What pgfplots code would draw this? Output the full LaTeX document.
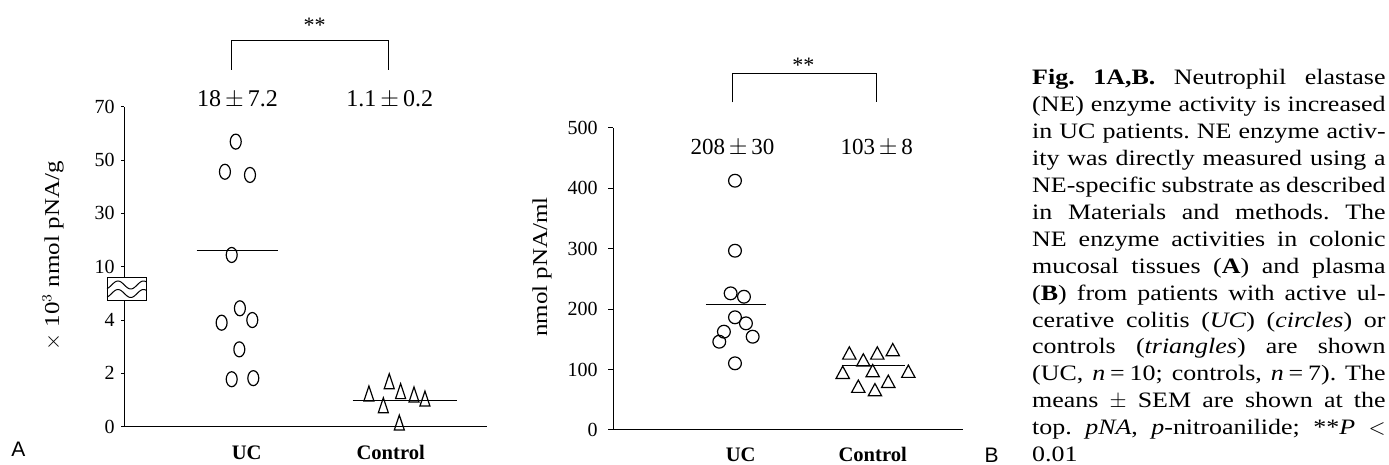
\documentclass[border=0pt]{standalone}
\usepackage{fontspec}
\setmainfont{Liberation Serif}
\setsansfont{Liberation Sans}
\newfontfamily\capfont{Liberation Serif}[FakeStretch=1.18]
\usepackage{pgfplots}
\pgfplotsset{compat=1.18}
\newcommand\capline[2]{\node[anchor=base west, inner sep=0pt,
   font=\capfont\fontsize{11}{13}\selectfont\frenchspacing] at (1031.7,#1) {\makebox[176.7pt][s]{#2}};}

\begin{document}
\begin{tikzpicture}
\pgfplotsset{
  dotplot/.style={
    scale only axis, axis lines=left, axis line style={-, line width=0.5pt},
    xtick=\empty, tick align=outside, ytick pos=left,
    tick style={black, line width=0.5pt},
    tick label style={font=\fontsize{10}{12}\selectfont},
    yticklabel style={inner sep=0pt, anchor=east},
    /pgf/number format/assume math mode=true,
    clip=false,
  }
}
% ---------- Panel A ----------
\begin{axis}[dotplot, at={(62pt,19.15pt)}, anchor=south west,
  width=181.5pt, height=160pt,
  xmin=0.148, xmax=2.669, ymin=0, ymax=70,
  y coord trafo/.code={\pgfmathparse{#1<7 ? #1/2 : 3+(#1-10)/20}},
  ytick={0,2,4,10,30,50,70}, yticklabels={0,2,4,10,30,50,70},
  major tick length=1.5pt, yticklabel style={xshift=-3pt}]
\addplot[only marks, mark=o, mark size=3.75pt, mark options={xscale=0.73, line width=0.6pt}]
  coordinates {(0.924,56.9) (0.849,45.6) (1.023,44.4) (0.896,14.4) (0.953,4.44)
               (0.826,3.90) (1.039,4.00) (0.949,2.90) (0.896,1.78) (1.046,1.82)};
\addplot[only marks, mark=triangle, mark size=5pt, mark options={xscale=0.58, line width=0.6pt}]
  coordinates {(1.849,1.15) (1.990,1.61) (1.949,0.71) (2.069,1.24) (2.162,1.11) (2.238,0.96) (2.060,0.06)};
\addplot[black, line width=0.5pt] coordinates {(0.653,15.9) (1.217,15.9)};
\addplot[black, line width=0.5pt] coordinates {(1.736,0.98) (2.463,0.98)};
\end{axis}
% ---------- Panel B ----------
\begin{axis}[dotplot, at={(306.5pt,17.5pt)}, anchor=south west,
  width=175pt, height=151.15pt,
  xmin=0.033, xmax=2.684, ymin=0, ymax=500,
  ytick={0,100,200,300,400,500},
  major tick length=2.5pt, yticklabel style={xshift=-5pt}]
\addplot[only marks, mark=o, mark size=3.2pt, mark options={line width=0.6pt}]
  coordinates {(0.957,412.3) (0.957,296.5) (0.924,226) (1.025,220.4) (0.957,186.4)
               (1.040,176.4) (0.873,162.6) (0.838,146) (1.091,154.3) (0.957,110.3)};
\addplot[only marks, mark=triangle, mark size=4.1pt, mark options={xscale=0.94, line width=0.6pt}]
  coordinates {(1.823,124) (1.929,112.5) (2.035,124) (2.152,129.5) (1.773,92)
               (2.0,94.8) (2.270,93.8) (1.891,69) (2.017,63.3) (2.118,77.2)};
\addplot[black, line width=0.5pt] coordinates {(0.737,207.9) (1.192,207.9)};
\addplot[black, line width=0.5pt] coordinates {(1.765,107.5) (2.245,107.5)};
\end{axis}
% ---------- annotations (pixel coordinates) ----------
\begin{scope}[x=0.5pt, y=-0.5pt, shift={(0pt,232.5pt)}, line width=0.5pt]
  % axis break symbol
  \draw[fill=white] (107,278) rectangle (146,301);
  \draw plot[domain=107:146, samples=40, smooth] (\x,{285-4*cos(360*(\x-118)/25.5)});
  \draw plot[domain=107:146, samples=40, smooth] (\x,{293.5-4*cos(360*(\x-118)/25.5)});
  % y labels
  \node[rotate=90, font=\capfont\fontsize{10.6}{13}\selectfont] at (53,256) {$\times$ 10$^3$ nmol pNA/g};
  \node[rotate=90, font=\capfont\fontsize{10.6}{13}\selectfont] at (542,267) {nmol pNA/ml};
  % x category labels
  \node[anchor=base, font=\fontsize{10.3}{12}\bfseries] at (246.7,459.5) {UC};
  \node[anchor=base, font=\fontsize{10.3}{12}\bfseries] at (390.7,459.5) {Control};
  \node[anchor=base, font=\fontsize{10.3}{12}\bfseries] at (740.7,461.5) {UC};
  \node[anchor=base, font=\fontsize{10.3}{12}\bfseries] at (872.7,461.5) {Control};
  % means +- SEM
  \node[anchor=base, font=\fontsize{12}{14}\selectfont] at (237.5,106.7) {18\,$\pm$\,7.2};
  \node[anchor=base, font=\fontsize{12}{14}\selectfont] at (389.7,106.7) {1.1\,$\pm$\,0.2};
  \node[anchor=base, font=\fontsize{11.5}{14}\selectfont] at (732.5,154.2) {208\,$\pm$\,30};
  \node[anchor=base, font=\fontsize{11.5}{14}\selectfont] at (876.7,154.2) {103\,$\pm$\,8};
  % significance brackets
  \draw (231.7,70) -- (231.7,40.7) -- (388.3,40.7) -- (388.3,70);
  \node[anchor=base, font=\fontsize{11}{13}\selectfont] at (314.5,33) {**};
  \draw (732,102.5) -- (732,73.3) -- (876,73.3) -- (876,102.5);
  \node[anchor=base, font=\fontsize{11}{13}\selectfont] at (803.3,73) {**};
  % panel letters
  \node[font=\fontsize{10.5}{12}\sffamily] at (18.3,449) {A};
  \node[font=\fontsize{10.5}{12}\sffamily] at (991.7,455) {B};
  % caption, one justified line per node
  \capline{85}{\textbf{Fig. 1A,B.} Neutrophil elastase}
  \capline{111.9}{(NE) enzyme activity is increased}
  \capline{138.8}{in UC patients. NE enzyme activ-}
  \capline{165.7}{ity was directly measured using a}
  \capline{192.6}{NE-specific substrate as described}
  \capline{219.5}{in Materials and methods. The}
  \capline{246.4}{NE enzyme activities in colonic}
  \capline{273.3}{mucosal tissues (\textbf{A}) and plasma}
  \capline{300.2}{(\textbf{B}) from patients with active ul-}
  \capline{327.1}{cerative colitis (\textit{UC}) (\textit{circles}) or}
  \capline{354}{controls (\textit{triangles}) are shown}
  \capline{380.9}{(UC, \textit{n}\hspace{0.22em}=\hspace{0.22em}10; controls, \textit{n}\hspace{0.22em}=\hspace{0.22em}7). The}
  \capline{407.8}{means $\pm$ SEM are shown at the}
  \capline{434.7}{top. \textit{pNA}, \textit{p}-nitroanilide; **\textit{P} $<$}
  \node[anchor=base west, inner sep=0pt, font=\capfont\fontsize{11}{13}\selectfont] at (1031.7,461.6) {0.01};
\end{scope}
\pgfresetboundingbox
\path[use as bounding box] (0,0) rectangle (694.5pt,232.5pt);
\end{tikzpicture}
\end{document}
